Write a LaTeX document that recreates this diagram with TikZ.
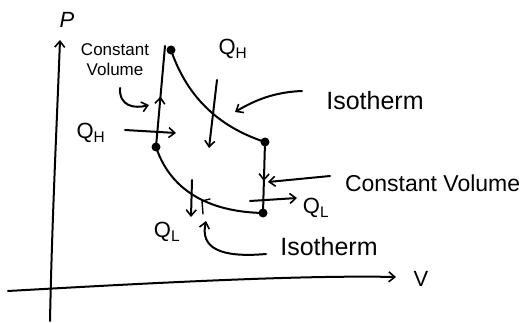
\documentclass[tikz,border=0pt]{standalone}
\usepackage{fontspec}
\setmainfont{Liberation Sans}
\usetikzlibrary{arrows.meta,decorations.markings}
\tikzset{
  pen/.style={line width=2pt, line cap=round, line join=round},
  barb/.style={-{Straight Barb[length=6pt,width=10pt,line width=1.6pt]}},
  midarrow/.style={postaction={decorate}, decoration={markings,
      mark=at position #1 with {\arrow{Straight Barb[length=6pt,width=10pt,line width=1.6pt]}}}},
  dot/.style={fill=black},
  lbl/.style={inner sep=0pt, font=\fontsize{22}{24}\selectfont},
  big/.style={inner sep=0pt, font=\fontsize{25}{28}\selectfont},
  small/.style={inner sep=0pt, font=\fontsize{17}{19}\selectfont, align=center},
}
\begin{document}
\begin{tikzpicture}[x=1pt, y=-1pt, pen]
\useasboundingbox (0,0) rectangle (527,323);

% axes
\coordinate (pbot) at (50,321);
\coordinate (ptop) at (60,40);
\coordinate (vleft) at (8,291);
\coordinate (vright) at (396,277);
\draw[barb] (pbot) .. controls (52,220) and (57,120) .. (ptop);
\draw[barb] (vleft) .. controls (150,283) and (300,275) .. (vright);
\node[lbl] (plab) at (67,20) {\itshape P};
\node[lbl] (vlab) at (421,279) {V};

% corners of the cycle
\coordinate (A) at (171,50);
\coordinate (B) at (265,142);
\coordinate (C) at (263,213);
\coordinate (D) at (156,147);
\coordinate (Atop) at (165,46);

% constant volume legs
\draw[midarrow=0.5] (D) -- (Atop);
\draw[midarrow=0.55] (B) -- (C);
% isotherms
\draw (A) .. controls (188,100) and (222,128) .. (B);
\draw (D) .. controls (172,195) and (215,212) .. (C);
\foreach \p in {A,B,C,D} \fill[dot] (\p) circle (4.5pt);

% heat flows
\node[lbl] (qh1) at (91,133) {Q\textsubscript{H}};
\coordinate (qh1s) at (125,130);
\coordinate (qh1e) at (176,133);
\draw[barb] (qh1s) -- (qh1e);

\node[lbl] (qh2) at (233,49) {Q\textsubscript{H}};
\coordinate (qh2s) at (217,80);
\coordinate (qh2e) at (209,148);
\draw[barb] (qh2s) -- (qh2e);

\node[lbl] (ql1) at (316,208) {Q\textsubscript{L}};
\coordinate (ql1s) at (250,201);
\coordinate (ql1e) at (297,198);
\draw[barb] (ql1s) -- (ql1e);

\node[lbl] (ql2) at (167,232) {Q\textsubscript{L}};
\coordinate (ql2s) at (192,180);
\coordinate (ql2e) at (191,217);
\draw[barb] (ql2s) -- (ql2e);
\draw[line width=1.4pt] (203,214) -- (202,201) -- (210,199);

% annotations
\node[small] (cvtop) at (115,60) {Constant\\[1pt]Volume};
\coordinate (cvtops) at (120,88);
\coordinate (cvtope) at (149,105);
\draw[barb] (cvtops) .. controls (119,106) and (134,109) .. (cvtope);

\node[lbl, anchor=west, font=\fontsize{23}{25}\selectfont] (cvright) at (344,183) {Constant Volume};
\coordinate (cvrs) at (330,176);
\coordinate (cvre) at (268,182);
\draw[barb] (cvrs) -- (cvre);

\node[big] (isotop) at (375,101) {Isotherm};
\coordinate (isotops) at (302,91);
\coordinate (isotope) at (235,112);
\draw[barb] (isotops) .. controls (275,92) and (255,100) .. (isotope);

\node[big] (isobot) at (329,247) {Isotherm};
\coordinate (isobots) at (266,254);
\coordinate (isobote) at (206,221);
\draw[barb] (isobots) .. controls (220,258) and (200,248) .. (isobote);
\end{tikzpicture}
\end{document}
